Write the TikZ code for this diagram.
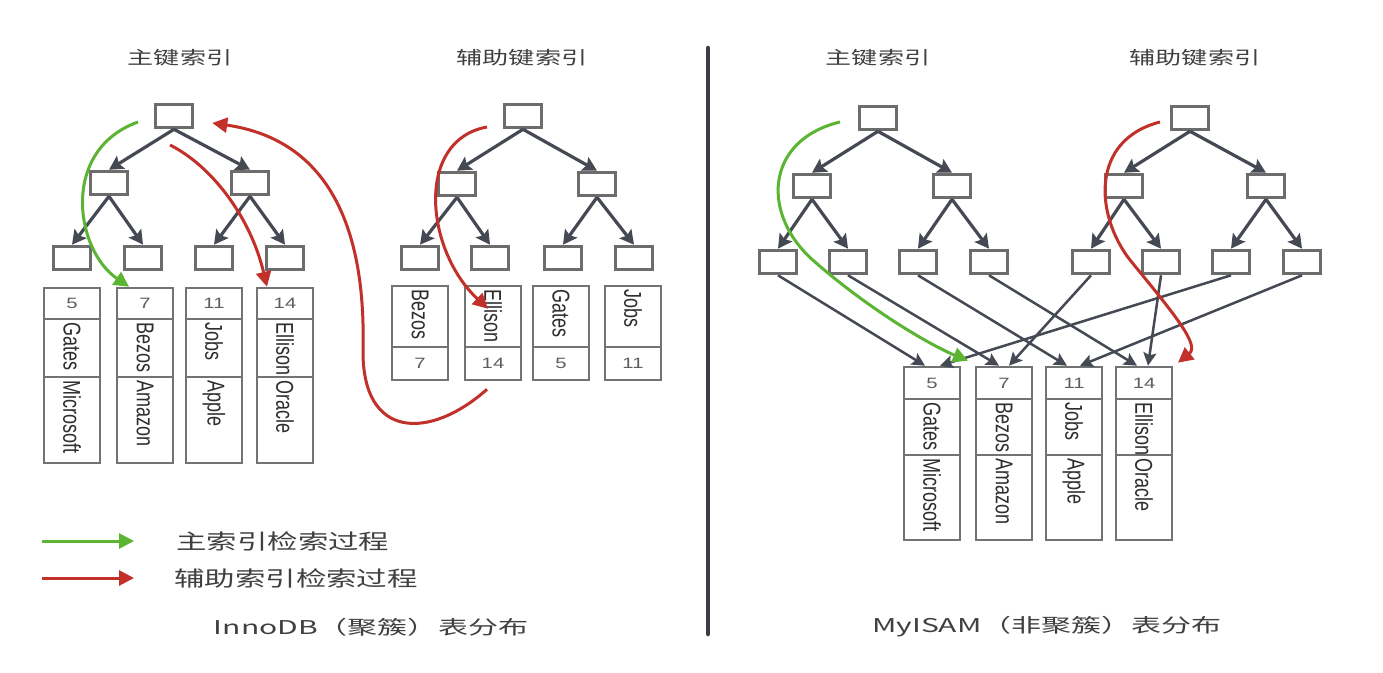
\documentclass[tikz,border=0pt]{standalone}
\usepackage{fontspec}
\setmainfont{Liberation Sans}
\newfontfamily\cjkfont{Noto Sans CJK SC}
\usetikzlibrary{arrows.meta}
\definecolor{boxgray}{HTML}{6C6C6C}
\definecolor{cellgray}{HTML}{737373}
\definecolor{arrowdark}{HTML}{454953}
\definecolor{txtgray}{HTML}{404040}
\definecolor{numgray}{HTML}{5E5E5E}
\definecolor{namedark}{HTML}{2E2E2E}
\definecolor{pgreen}{HTML}{5BB532}
\definecolor{pred}{HTML}{C2302A}
\definecolor{divider}{HTML}{3A3D47}
\begin{document}
\begin{tikzpicture}[x=1pt,y=-1pt,
  tbox/.style={draw=boxgray,line width=3.6pt,fill=white,minimum width=37pt,minimum height=23pt,inner sep=0pt},
  cell/.style={draw=cellgray,line width=2.6pt,minimum width=56pt,inner sep=0pt},
  treearrow/.style={draw=arrowdark,line width=3.2pt,-{Stealth[length=14pt,width=15pt,inset=2.5pt]}},
  lrarrow/.style={draw=arrowdark,line width=2.5pt,-{Stealth[length=13pt,width=13pt,inset=2.5pt]}},
  greenarrow/.style={draw=pgreen,line width=3pt,-{Triangle[length=15pt,width=15pt]}},
  redarrow/.style={draw=pred,line width=3pt,-{Triangle[length=15pt,width=15pt]}},
  numtxt/.style={font=\fontsize{15}{15}\selectfont,text=numgray,xscale=1.35,inner sep=0pt},
  nametxt/.style={font=\fontsize{18}{18}\selectfont,text=namedark,xscale=1.35,rotate=-90,anchor=west,inner sep=0pt},
  cjktitle/.style={font=\cjkfont\fontsize{18}{20}\selectfont,text=txtgray,xscale=1.45,inner sep=0pt},
  cjklegend/.style={font=\cjkfont\fontsize{21}{24}\selectfont,text=txtgray,xscale=1.45,inner sep=0pt,anchor=west},
  cjkcap/.style={font=\cjkfont\fontsize{19}{22}\selectfont,text=txtgray,xscale=1.58,inner sep=0pt}
]
\fill[white] (0,0) rectangle (1383,672);
\useasboundingbox (0,0) rectangle (1383,672);

% titles
\node[cjktitle] (t1) at (180,58) {主键索引};
\node[cjktitle] (t2) at (522,58) {辅助键索引};
\node[cjktitle] (t3) at (878,58) {主键索引};
\node[cjktitle] (t4) at (1195,58) {辅助键索引};

% divider
\draw[divider,line width=4.5pt,line cap=round] (708,48) -- (708,634);

% ---------- InnoDB primary tree ----------
\node[tbox] (a0) at (174,116) {};
\node[tbox] (a1) at (109,183) {};
\node[tbox] (a2) at (250,183) {};
\node[tbox] (a3) at (72,258) {};
\node[tbox] (a4) at (143,258) {};
\node[tbox] (a5) at (214,258) {};
\node[tbox] (a6) at (285,258) {};
\draw[treearrow] (a0.south) -- (a1.north);
\draw[treearrow] (a0.south) -- (a2.north);
\draw[treearrow] (a1.south) -- (a3.north);
\draw[treearrow] (a1.south) -- (a4.north);
\draw[treearrow] (a2.south) -- (a5.north);
\draw[treearrow] (a2.south) -- (a6.north);

\foreach \x/\k/\n/\c/\i in {72/5/Gates/Microsoft/1,145/7/Bezos/Amazon/2,214/11/Jobs/Apple/3,285/14/Ellison/Oracle/4}{
  \node[cell,minimum height=31pt] (ik\i) at (\x,303.5) {};
  \node[cell,minimum height=58pt] (in\i) at (\x,348) {};
  \node[cell,minimum height=86pt] (ic\i) at (\x,420) {};
  \node[numtxt] (ikt\i) at (ik\i) {\k};
  \node[nametxt] (int\i) at ([yshift=-5pt]in\i.north) {\n};
  \node[nametxt] (ict\i) at ([yshift=-5pt]ic\i.north) {\c};
}

% ---------- InnoDB secondary tree ----------
\node[tbox] (b0) at (523,116) {};
\node[tbox] (b1) at (457,184) {};
\node[tbox] (b2) at (597,184) {};
\node[tbox] (b3) at (420,258) {};
\node[tbox] (b4) at (490,258) {};
\node[tbox] (b5) at (563,258) {};
\node[tbox] (b6) at (634,258) {};
\draw[treearrow] (b0.south) -- (b1.north);
\draw[treearrow] (b0.south) -- (b2.north);
\draw[treearrow] (b1.south) -- (b3.north);
\draw[treearrow] (b1.south) -- (b4.north);
\draw[treearrow] (b2.south) -- (b5.north);
\draw[treearrow] (b2.south) -- (b6.north);

\foreach \x/\k/\n/\i in {420/7/Bezos/1,493/14/Ellison/2,561/5/Gates/3,633/11/Jobs/4}{
  \node[cell,minimum height=61pt] (jn\i) at (\x,316.5) {};
  \node[cell,minimum height=33pt] (jk\i) at (\x,363.5) {};
  \node[numtxt] (jkt\i) at (jk\i) {\k};
  \node[nametxt] (jnt\i) at ([yshift=-5pt]jn\i.north) {\n};
}

% ---------- MyISAM primary tree ----------
\node[tbox] (c0) at (878,118) {};
\node[tbox] (c1) at (812,186) {};
\node[tbox] (c2) at (952,186) {};
\node[tbox] (c3) at (778,262) {};
\node[tbox] (c4) at (848,262) {};
\node[tbox] (c5) at (918,262) {};
\node[tbox] (c6) at (989,262) {};
\draw[treearrow] (c0.south) -- (c1.north);
\draw[treearrow] (c0.south) -- (c2.north);
\draw[treearrow] (c1.south) -- (c3.north);
\draw[treearrow] (c1.south) -- (c4.north);
\draw[treearrow] (c2.south) -- (c5.north);
\draw[treearrow] (c2.south) -- (c6.north);

% ---------- MyISAM secondary tree ----------
\node[tbox] (d0) at (1190,118) {};
\node[tbox] (d1) at (1124,186) {};
\node[tbox] (d2) at (1266,186) {};
\node[tbox] (d3) at (1091,262) {};
\node[tbox] (d4) at (1161,262) {};
\node[tbox] (d5) at (1231,262) {};
\node[tbox] (d6) at (1302,262) {};
\draw[treearrow] (d0.south) -- (d1.north);
\draw[treearrow] (d0.south) -- (d2.north);
\draw[treearrow] (d1.south) -- (d3.north);
\draw[treearrow] (d1.south) -- (d4.north);
\draw[treearrow] (d2.south) -- (d5.north);
\draw[treearrow] (d2.south) -- (d6.north);

\foreach \x/\k/\n/\c/\i in {932/5/Gates/Microsoft/1,1004/7/Bezos/Amazon/2,1074/11/Jobs/Apple/3,1144/14/Ellison/Oracle/4}{
  \node[cell,minimum height=32pt] (mk\i) at (\x,383) {};
  \node[cell,minimum height=56pt] (mn\i) at (\x,427) {};
  \node[cell,minimum height=85pt] (mc\i) at (\x,497.5) {};
  \node[numtxt] (mkt\i) at (mk\i) {\k};
  \node[nametxt] (mnt\i) at ([yshift=-5pt]mn\i.north) {\n};
  \node[nametxt] (mct\i) at ([yshift=-5pt]mc\i.north) {\c};
}

% leaves -> records
\draw[lrarrow] (c3.south) -- ([xshift=-7pt]mk1.north);
\draw[lrarrow] (d5.south) -- ([xshift=8pt]mk1.north);
\draw[lrarrow] (c4.south) -- ([xshift=-5pt]mk2.north);
\draw[lrarrow] (d3.south) -- ([xshift=5pt]mk2.north);
\draw[lrarrow] (c5.south) -- ([xshift=-7pt]mk3.north);
\draw[lrarrow] (d6.south) -- ([xshift=6pt]mk3.north);
\draw[lrarrow] (c6.south) -- ([xshift=-7pt]mk4.north);
\draw[lrarrow] (d4.south) -- ([xshift=4pt]mk4.north);

% ---------- search paths ----------
\coordinate (g1s) at (138,122);
\draw[greenarrow] (g1s) .. controls (60,150) and (75,250) .. ([xshift=-16pt]ik2.north);
\coordinate (r1s) at (170,145);
\draw[redarrow] (r1s) .. controls (210,165) and (250,215) .. ([xshift=-18pt]ik4.north);
\coordinate (r2s) at ([xshift=-6pt,yshift=-8pt]jk2.south);
\coordinate (r2m) at (363,350);
\draw[redarrow] (r2s) .. controls (430,440) and (362,440) .. (r2m)
  .. controls (366,230) and (330,140) .. ([xshift=18pt,yshift=-7pt]a0.east);
\coordinate (r3s) at (487,127);
\draw[redarrow] (r3s) .. controls (415,140) and (425,250) .. ([xshift=-5pt,yshift=-24pt]jn2.north);

\coordinate (g2s) at (840,122);
\coordinate (g2m) at (815,262);
\draw[greenarrow] (g2s) .. controls (765,140) and (760,215) .. (g2m)
  .. controls (870,310) and (930,345) .. ([xshift=36pt,yshift=5pt]mk1.north);
\coordinate (r4s) at (1160,122);
\coordinate (r4m) at (1130,260);
\draw[redarrow] (r4s) .. controls (1090,140) and (1095,215) .. (r4m)
  .. controls (1175,315) and (1200,345) .. ([xshift=34pt,yshift=3pt]mk4.north);

% ---------- legend ----------
\coordinate (lg1a) at (42,541);
\coordinate (lg1b) at (134,541);
\draw[greenarrow] (lg1a) -- (lg1b);
\node[cjklegend] (lt1) at (176,541) {主索引检索过程};
\coordinate (lg2a) at (42,578);
\coordinate (lg2b) at (134,578);
\draw[redarrow] (lg2a) -- (lg2b);
\node[cjklegend] (lt2) at (174,578) {辅助索引检索过程};

% captions
\node[cjkcap] (cap1) at (371,627) {InnoDB（聚簇）表分布};
\node[cjkcap] (cap2) at (1047,627) {MyISAM（非聚簇）表分布};
\end{tikzpicture}
\end{document}
